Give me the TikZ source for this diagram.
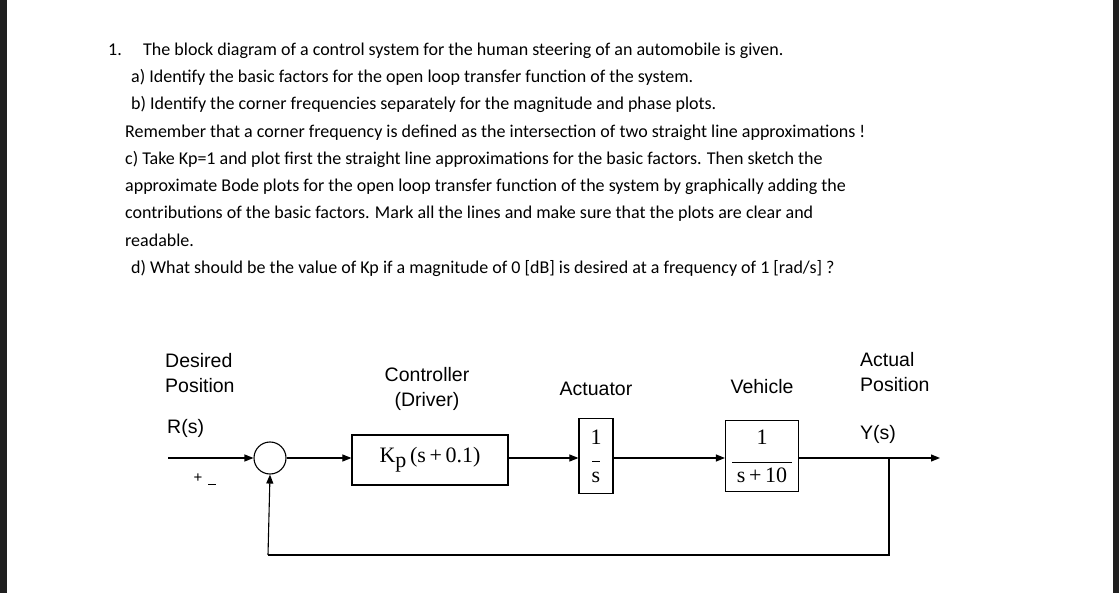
\documentclass[tikz,border=0pt]{standalone}
\usepackage{fontspec}
\setmainfont{Carlito}
\newfontfamily\arialfnt{Liberation Sans}
\newfontfamily\timesfnt{Liberation Serif}
\usetikzlibrary{arrows.meta}
\begin{document}
\begin{tikzpicture}[x=1pt,y=-1pt,
  q/.style={anchor=base west,inner sep=0,font=\fontsize{18}{20}\selectfont},
  lab/.style={inner sep=0,font=\arialfnt\fontsize{19.5}{25}\selectfont,align=center},
  blk/.style={draw,line width=1.2pt,inner sep=0,font=\timesfnt\fontsize{22}{24}\selectfont},
  sig/.style={line width=1.1pt,-{Triangle[length=9pt,width=7pt]}},
  ln/.style={line width=1.1pt}]
\useasboundingbox (0,0) rectangle (1119,593);
\fill[black!88] (0,0) rectangle (7,593);
\fill[black!88] (1113,0) rectangle (1119,593);
% question text
\node[q] (n1) at (108,56) {1.};
\node[q] (t1) at (143,56) {The block diagram of a control system for the human steering of an automobile is given.};
\node[q] (ta) at (131,83) {a) Identify the basic factors for the open loop transfer function of the system.};
\node[q] (tb) at (131,110) {b) Identify the corner frequencies separately for the magnitude and phase plots.};
\node[q] (tr) at (125,138) {Remember that a corner frequency is defined as the intersection of two straight line approximations !};
\node[q] (tc) at (125,165) {c) Take Kp=1 and plot first the straight line approximations for the basic factors. Then sketch the};
\node[q] (tc2) at (125,192) {approximate Bode plots for the open loop transfer function of the system by graphically adding the};
\node[q] (tc3) at (125,219) {contributions of the basic factors. Mark all the lines and make sure that the plots are clear and};
\node[q] (tc4) at (125,247) {readable.};
\node[q] (td) at (131,274) {d) What should be the value of Kp if a magnitude of 0 [dB] is desired at a frequency of 1 [rad/s] ?};
% labels
\node[lab,align=left,anchor=west] (ld) at (165,373) {Desired\\Position};
\node[lab] (lc) at (427,389) {Controller\\(Driver)};
\node[lab] (la) at (596,389) {Actuator};
\node[lab] (lv) at (762,387) {Vehicle};
\node[lab,align=left,anchor=west] (lp) at (860,372) {Actual\\Position};
\node[lab,anchor=west] (lr) at (167,428) {R(s)};
\node[lab,anchor=west] (ly) at (860,434) {Y(s)};
% blocks
\coordinate (in) at (168,458);
\node[draw,circle,line width=1.1pt,minimum size=32pt,inner sep=0] (sum) at (270,458) {};
\node[blk,minimum width=156pt,minimum height=50pt] (ctl) at (430,460) {K\raisebox{-5pt}{p}\,(s\,+\,0.1)};
\node[blk,minimum width=34pt,minimum height=75pt,align=center] (act) at (596,456) {1\\[-6pt]\rule{8pt}{0.7pt}\\[-4pt]s};
\node[blk,minimum width=73pt,minimum height=71pt,align=center] (veh) at (762,456) {1\\[-6pt]\rule{60pt}{0.5pt}\\[-4pt]s\,+\,10};
\coordinate (out) at (940,458);
\coordinate (br) at (889,458);
\coordinate (fb1) at (889,555);
\coordinate (fb2) at (268,555);
\draw[sig] (in) -- (sum.west);
\draw[sig] (sum.east) -- (ctl.west|-sum.east);
\draw[sig] (ctl.east|-sum.east) -- (act.west|-sum.east);
\draw[sig] (act.east|-sum.east) -- (veh.west|-sum.east);
\draw[sig] (veh.east|-sum.east) -- (out);
\draw[ln] (br) -- (fb1) -- (fb2);
\draw[sig] (fb2) -- (sum.south);
\node[lab,font=\arialfnt\fontsize{15}{15}\selectfont] (plus) at (198,478) {+};
\node[lab,font=\arialfnt\fontsize{15}{15}\selectfont] (minus) at (212,486) {\rule[3pt]{8pt}{1pt}};
\end{tikzpicture}
\end{document}
